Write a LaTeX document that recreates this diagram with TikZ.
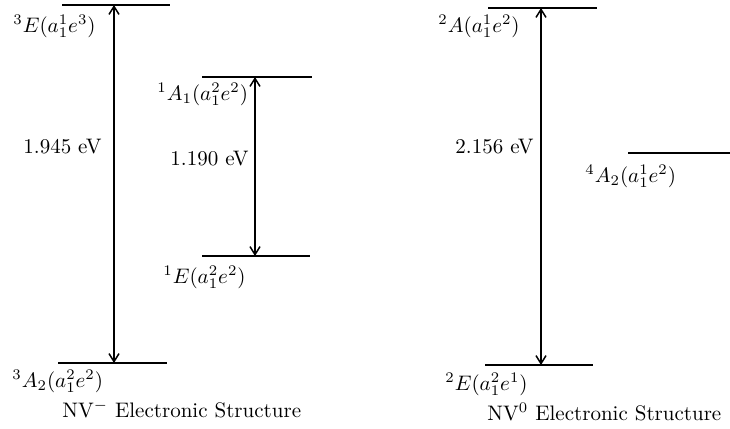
\documentclass[tikz,border=0pt]{standalone}
\usepackage{amsmath}
\usepackage{tikz}
\usetikzlibrary{arrows.meta, positioning}

\begin{document}
\begin{tikzpicture}[x=0.5pt, y=-0.5pt,
  level/.style={line width=1pt},
  trans/.style={{Straight Barb[length=4pt,width=5pt]}-{Straight Barb[length=4pt,width=5pt]}, line width=0.75pt},
  lbl/.style={anchor=base west, inner sep=0pt, scale=1.05},
  ev/.style={anchor=base west, inner sep=0pt, scale=1.05}
]
  \useasboundingbox (0,0) rectangle (730,429);

  % NV- levels
  \coordinate (E3a) at (62,5);   \coordinate (E3b) at (170,5);
  \coordinate (A3a) at (58,363); \coordinate (A3b) at (167,363);
  \coordinate (A1a) at (202,77); \coordinate (A1b) at (312,77);
  \coordinate (E1a) at (202,256);\coordinate (E1b) at (310,256);
  \draw[level] (E3a) -- (E3b);
  \draw[level] (A3a) -- (A3b);
  \draw[level] (A1a) -- (A1b);
  \draw[level] (E1a) -- (E1b);

  \node[lbl] (lE3) at (13,32)  {$^3E(a_1^1e^3)$};
  \node[lbl] (lA3) at (12,387) {$^3A_2(a_1^2e^2)$};
  \node[lbl] (lA1) at (157,100) {$^1A_1(a_1^2e^2)$};
  \node[lbl] (lE1) at (163,283) {$^1E(a_1^2e^2)$};

  \coordinate (t1a) at (114,5);  \coordinate (t1b) at (114,363);
  \coordinate (t2a) at (255,77); \coordinate (t2b) at (255,256);
  \draw[trans] (t1a) -- (t1b);
  \draw[trans] (t2a) -- (t2b);
  \node[ev] (ev1) at (23,153)  {1.945 eV};
  \node[ev] (ev2) at (170,165) {1.190 eV};

  \node[lbl] (cap1) at (62,417) {NV$^-$ Electronic Structure};

  % NV0 levels
  \coordinate (A2a) at (488,8);   \coordinate (A2b) at (597,8);
  \coordinate (Q4a) at (628,153); \coordinate (Q4b) at (730,153);
  \coordinate (E2a) at (485,365); \coordinate (E2b) at (593,365);
  \draw[level] (A2a) -- (A2b);
  \draw[level] (Q4a) -- (Q4b);
  \draw[level] (E2a) -- (E2b);

  \node[lbl] (lA2) at (438,32)  {$^2A(a_1^1e^2)$};
  \node[lbl] (lQ4) at (585,182) {$^4A_2(a_1^1e^2)$};
  \node[lbl] (lE2) at (445,390) {$^2E(a_1^2e^1)$};

  \coordinate (t3a) at (541,8); \coordinate (t3b) at (541,365);
  \draw[trans] (t3a) -- (t3b);
  \node[ev] (ev3) at (455,153) {2.156 eV};

  \node[lbl] (cap2) at (487,420) {NV$^0$ Electronic Structure};
\end{tikzpicture}
\end{document}
